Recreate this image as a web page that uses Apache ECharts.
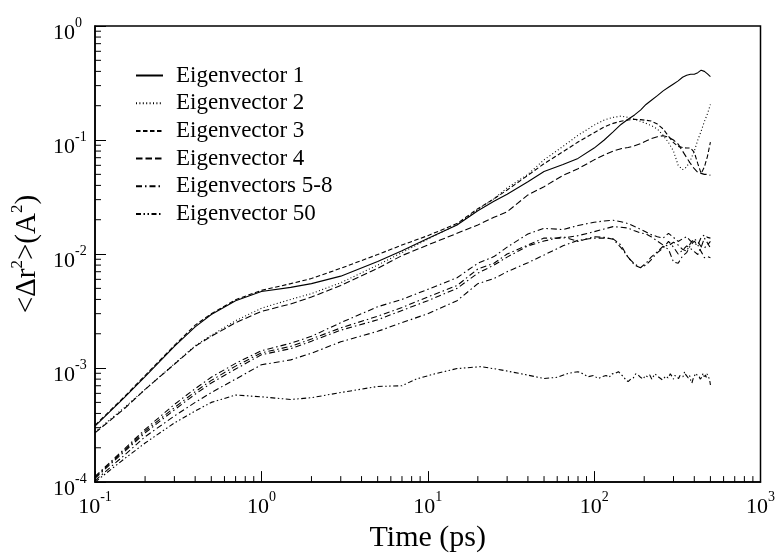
<!DOCTYPE html>
<html><head><meta charset="utf-8">
<script src="https://cdn.jsdelivr.net/npm/echarts@6/dist/echarts.min.js"></script>
<style>html,body{margin:0;padding:0;background:#fff}#c{width:778px;height:558px}</style>
</head><body><div id="c"></div><script>
// ---------- data ----------
const time = [0.1,0.15,0.2,0.3,0.4,0.5,0.7,1,1.5,2,3,5,7,10,15,20,25,30,40,50,65,80,100,115,130,145,160,175,190,205,220,240,260,280,300,320,340,360,380,400,420,440,460,480,500];
const ev1 = [3.1e-4,5.5e-4,8.4e-4,1.55e-3,2.3e-3,2.95e-3,3.9e-3,4.7e-3,5.1e-3,5.5e-3,6.4e-3,8.6e-3,1.07e-2,1.37e-2,1.8e-2,2.4e-2,2.9e-2,3.35e-2,4.3e-2,5.3e-2,6.1e-2,6.9e-2,8.5e-2,0.1,0.118,0.137,0.152,0.166,0.183,0.205,0.222,0.245,0.27,0.29,0.31,0.33,0.355,0.37,0.378,0.378,0.39,0.41,0.4,0.38,0.36];
const ev2 = [2.75e-4,4.5e-4,6.5e-4,1.09e-3,1.57e-3,1.94e-3,2.6e-3,3.35e-3,4.0e-3,4.5e-3,5.6e-3,8.0e-3,1.03e-2,1.35e-2,1.82e-2,2.45e-2,3.05e-2,3.8e-2,5.0e-2,6.7e-2,8.8e-2,0.11,0.135,0.15,0.158,0.162,0.158,0.152,0.146,0.14,0.134,0.125,0.11,0.095,0.08,0.06,0.055,0.058,0.067,0.08,0.1,0.12,0.145,0.17,0.205];
const ev3 = [3.15e-4,5.6e-4,8.6e-4,1.58e-3,2.38e-3,3.0e-3,3.98e-3,4.8e-3,5.5e-3,6.1e-3,7.5e-3,9.9e-3,1.2e-2,1.45e-2,1.85e-2,2.5e-2,3.05e-2,3.65e-2,4.9e-2,6.2e-2,7.9e-2,9.6e-2,0.116,0.13,0.14,0.146,0.15,0.152,0.151,0.149,0.147,0.138,0.125,0.108,0.095,0.088,0.086,0.085,0.085,0.078,0.062,0.051,0.058,0.072,0.096];
const ev4 = [2.7e-4,4.4e-4,6.5e-4,1.08e-3,1.55e-3,1.9e-3,2.5e-3,3.14e-3,3.65e-3,4.2e-3,5.3e-3,7.5e-3,9.7e-3,1.2e-2,1.52e-2,1.8e-2,2.1e-2,2.35e-2,3.3e-2,3.9e-2,4.9e-2,5.6e-2,6.7e-2,7.4e-2,8.0e-2,8.4e-2,8.6e-2,8.9e-2,9.3e-2,9.8e-2,0.103,0.107,0.109,0.106,0.1,0.092,0.08,0.07,0.062,0.056,0.052,0.051,0.05,0.05,0.049];
const ev5 = [1.12e-4,1.95e-4,2.9e-4,4.8e-4,6.6e-4,8.3e-4,1.1e-3,1.42e-3,1.65e-3,1.9e-3,2.5e-3,3.45e-3,4.0e-3,4.9e-3,6.2e-3,8.3e-3,9.5e-3,1.15e-2,1.5e-2,1.68e-2,1.64e-2,1.78e-2,1.9e-2,1.95e-2,1.98e-2,1.92e-2,1.85e-2,1.74e-2,1.65e-2,1.56e-2,1.48e-2,1.42e-2,1.38e-2,1.52e-2,1.4e-2,1.29e-2,1.36e-2,1.42e-2,1.3e-2,1.24e-2,1.2e-2,1.4e-2,1.47e-2,1.4e-2,1.38e-2];
const ev6 = [1.1e-4,1.9e-4,2.8e-4,4.5e-4,6.2e-4,7.8e-4,1.04e-3,1.36e-3,1.55e-3,1.8e-3,2.25e-3,2.85e-3,3.4e-3,4.2e-3,5.3e-3,7.4e-3,8.3e-3,1.0e-2,1.2e-2,1.38e-2,1.38e-2,1.45e-2,1.57e-2,1.66e-2,1.74e-2,1.72e-2,1.69e-2,1.6e-2,1.53e-2,1.5e-2,1.42e-2,1.3e-2,1.2e-2,1.18e-2,1.27e-2,1.2e-2,1.1e-2,1.06e-2,1.25e-2,1.36e-2,1.28e-2,1.16e-2,1.13e-2,1.2e-2,1.29e-2];
const ev7 = [1.08e-4,1.85e-4,2.7e-4,4.3e-4,5.9e-4,7.4e-4,9.8e-4,1.31e-3,1.48e-3,1.72e-3,2.15e-3,2.65e-3,3.2e-3,3.9e-3,5.0e-3,6.8e-3,8.0e-3,9.4e-3,1.18e-2,1.3e-2,1.42e-2,1.29e-2,1.42e-2,1.4e-2,1.35e-2,1.14e-2,9.4e-3,8.0e-3,7.6e-3,8.0e-3,8.9e-3,1.03e-2,1.13e-2,1.29e-2,1.15e-2,1.0e-2,1.08e-2,1.18e-2,1.12e-2,1.05e-2,9.9e-3,1.15e-2,1.38e-2,1.25e-2,1.13e-2];
const ev8 = [1.03e-4,1.72e-4,2.5e-4,3.8e-4,5.0e-4,6.1e-4,8.0e-4,1.07e-3,1.18e-3,1.35e-3,1.7e-3,2.1e-3,2.5e-3,3.0e-3,3.9e-3,5.5e-3,6.1e-3,7.0e-3,8.4e-3,9.8e-3,1.18e-2,1.32e-2,1.38e-2,1.38e-2,1.36e-2,1.2e-2,9.3e-3,8.2e-3,7.6e-3,8.3e-3,9.4e-3,1.05e-2,1.17e-2,1.1e-2,8.5e-3,8.3e-3,9.6e-3,1.03e-2,1.2e-2,1.3e-2,1.2e-2,1.05e-2,9.3e-3,9.5e-3,9.3e-3];
const time50 = [0.1,0.15,0.2,0.3,0.4,0.5,0.7,1,1.5,2,3,5,7,8.5,11,15,21,28,38,50,60,70,
  80,86,92,99,106,112,118,123,128,134,140,145,150,155,160,166,172,178,184,190,197,203,210,216,222,227,232,238,245,251,
  257,263,270,278,287,293,300,306,312,322,328,335,342,350,356,362,368,375,381,387,393,399,405,411,416,422,428,434,440,446,
  451,457,462,467,472,477,483,488,494,500];
const ev50 = [1.0e-4,1.6e-4,2.2e-4,3.3e-4,4.2e-4,5.0e-4,5.8e-4,5.6e-4,5.3e-4,5.5e-4,6.1e-4,6.9e-4,7.0e-4,8.0e-4,8.9e-4,9.9e-4,1.03e-3,9.6e-4,8.8e-4,8.1e-4,8.3e-4,9.0e-4,
  9.3e-4,8.9e-4,8.4e-4,8.6e-4,8.1e-4,8.4e-4,8.6e-4,8.3e-4,8.9e-4,9.0e-4,9.3e-4,8.8e-4,8.4e-4,7.9e-4,7.6e-4,8.0e-4,8.2e-4,8.9e-4,8.7e-4,8.3e-4,8.0e-4,8.6e-4,8.4e-4,8.7e-4,8.0e-4,8.3e-4,8.9e-4,8.6e-4,8.3e-4,8.6e-4,
  7.9e-4,8.2e-4,8.5e-4,8.2e-4,8.9e-4,8.5e-4,8.0e-4,8.6e-4,8.3e-4,8.1e-4,8.6e-4,8.8e-4,8.4e-4,9.3e-4,8.7e-4,8.9e-4,8.2e-4,8.6e-4,7.8e-4,7.4e-4,8.0e-4,8.5e-4,8.3e-4,9.0e-4,8.6e-4,8.9e-4,8.4e-4,8.0e-4,7.8e-4,8.4e-4,
  9.0e-4,8.8e-4,8.2e-4,8.7e-4,8.3e-4,8.9e-4,8.5e-4,8.7e-4,8.0e-4,7.1e-4];
const legendNames = ['Eigenvector 1','Eigenvector 2','Eigenvector 3','Eigenvector 4','Eigenvectors 5-8','Eigenvector 50'];
const xRange = [0.1, 1000];
const yRange = [1e-4, 1];
const minorMultipliers = [2,3,4,5,6,7,8,9];

// ---------- chart ----------
const FONT = 'Liberation Serif';
const chart = echarts.init(document.getElementById('c'), null, {renderer:'canvas'});
function pairs(xs, ys){ return xs.map((x,i)=>[x, ys[i]]); }
function pow10(v){ const e = Math.round(Math.log10(v)); return '{b|10}{s|' + e + '}'; }
const supRich = {
  b:{fontFamily:FONT,fontSize:22,lineHeight:34,color:'#000',verticalAlign:'middle'},
  s:{fontFamily:FONT,fontSize:14,lineHeight:14,color:'#000',verticalAlign:'top'}
};
const dash = {
  solid:'solid', dot:[1,2.4], short:[4.5,2.5], long:[6.5,3], dashdot:[6,3,1.5,3], dashdotdot:[5,2.5,1.5,2.5,1.5,2.5]
};
function line(name, xs, ys, type){
  return {name, type:'line', data:pairs(xs, ys), symbol:'none', showSymbol:false,
    lineStyle:{color:'#000', width:1.1, type}, itemStyle:{color:'#000'}, emphasis:{disabled:true}, animation:false};
}
const series = [
  line(legendNames[0], time, ev1, dash.solid),
  line(legendNames[1], time, ev2, dash.dot),
  line(legendNames[2], time, ev3, dash.short),
  line(legendNames[3], time, ev4, dash.long),
  line(legendNames[4], time, ev5, dash.dashdot),
  line(legendNames[4], time, ev6, dash.dashdot),
  line(legendNames[4], time, ev7, dash.dashdot),
  line(legendNames[4], time, ev8, dash.dashdot),
  line(legendNames[5], time50, ev50, dash.dashdotdot)
];
const axisCommon = {
  type:'log', logBase:10,
  axisLine:{show:true, lineStyle:{color:'#000', width:1.5}},
  axisTick:{show:true, inside:true, length:11, lineStyle:{color:'#000', width:1}},
  splitLine:{show:false}
};
chart.setOption({
  animation:false,
  backgroundColor:'#fff',
  grid:{left:95, right:15, top:26, bottom:65, show:true, borderColor:'#000', borderWidth:1.5, backgroundColor:'transparent'},
  legend:{
    data:legendNames, orient:'vertical', left:135, top:64, padding:0,
    itemWidth:27, itemHeight:14, itemGap:4.7,
    itemStyle:{opacity:0},
    textStyle:{fontFamily:FONT, fontSize:23, lineHeight:23, color:'#000', padding:[0,0,0,8]},
    selectedMode:false
  },
  xAxis:Object.assign({}, axisCommon, {
    min:xRange[0], max:xRange[1],
    axisLabel:{formatter:pow10, rich:supRich, margin:8},
    name:'Time (ps)', nameLocation:'middle', nameGap:36,
    nameTextStyle:{fontFamily:FONT, fontSize:30, color:'#000'}
  }),
  yAxis:Object.assign({}, axisCommon, {
    min:yRange[0], max:yRange[1],
    axisLabel:{formatter:pow10, rich:supRich, margin:42, align:'left', padding:[14,0,0,0]},
    name:'{a|<\u0394r}{s|2}{a|>(A}{s|2}{a|)}', nameLocation:'middle', nameGap:48,
    nameTextStyle:{color:'#000', rich:{
      a:{fontFamily:FONT,fontSize:29,lineHeight:33,color:'#000',verticalAlign:'bottom'},
      s:{fontFamily:FONT,fontSize:17,lineHeight:17,color:'#000',verticalAlign:'top'}
    }}
  }),
  series
});

// minor ticks, positioned through the axes' own scales
function minorTicks(){
  const g = [];
  const x0 = chart.convertToPixel({xAxisIndex:0}, xRange[0]);
  const y0 = chart.convertToPixel({yAxisIndex:0}, yRange[0]);
  for (let d=Math.log10(xRange[0]); d<Math.log10(xRange[1]); d++){
    minorMultipliers.forEach(m=>{
      const px = chart.convertToPixel({xAxisIndex:0}, m*Math.pow(10,d));
      g.push({type:'line', silent:true, shape:{x1:px,y1:y0,x2:px,y2:y0-6}, style:{stroke:'#000', lineWidth:1}});
    });
  }
  for (let d=Math.log10(yRange[0]); d<Math.log10(yRange[1]); d++){
    minorMultipliers.forEach(m=>{
      const py = chart.convertToPixel({yAxisIndex:0}, m*Math.pow(10,d));
      g.push({type:'line', silent:true, shape:{x1:x0,y1:py,x2:x0+6,y2:py}, style:{stroke:'#000', lineWidth:1}});
    });
  }
  chart.setOption({graphic:g});
}
minorTicks();
</script></body></html>
